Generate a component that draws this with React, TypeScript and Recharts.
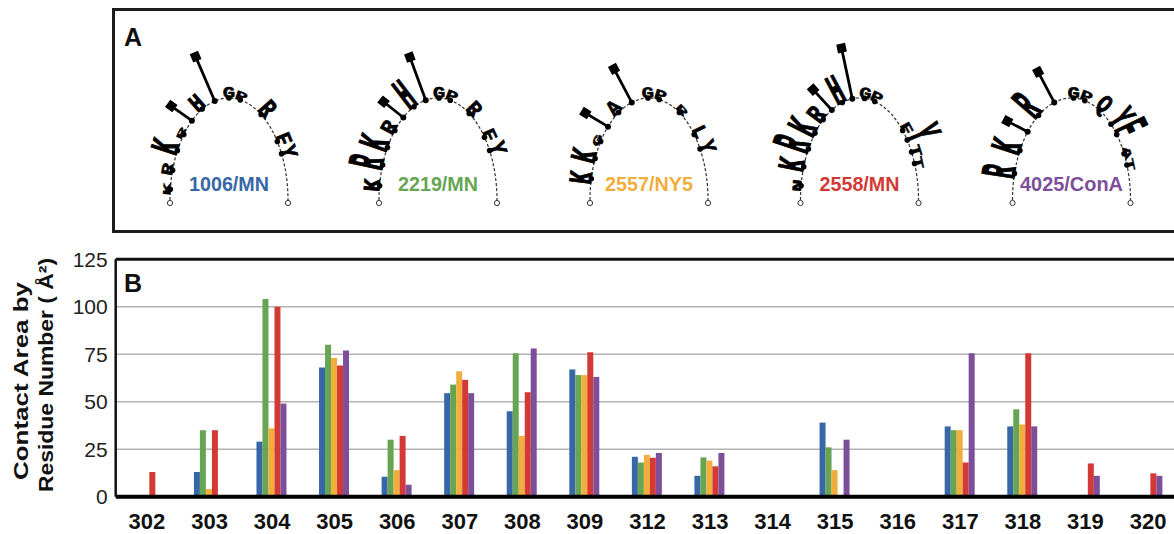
import React from 'react';
import { BarChart, Bar, XAxis, YAxis, CartesianGrid, ReferenceLine } from 'recharts';

// ---------- Panel B data ----------
const residues = ['302', '303', '304', '305', '306', '307', '308', '309', '312', '313', '314', '315', '316', '317', '318', '319', '320'];
const values1006MN = [0, 13, 29, 68, 10.5, 54.5, 45, 67, 21, 11, 0, 39, 0, 37, 37, 0, 0];
const values2219MN = [0, 35, 104, 80, 30, 59, 75.5, 64, 18, 20.7, 0, 26, 0, 35, 46, 0, 0];
const values2557NY5 = [0, 4, 36, 73, 14, 66, 32, 64, 22, 19, 0, 14, 0, 35, 38, 0, 0];
const values2558MN = [13, 35, 100, 69, 32, 61.5, 55, 76, 20.5, 16, 0, 0, 0, 18, 75.5, 17.5, 12.3];
const values4025ConA = [0, 0, 49, 77, 6.3, 54.5, 78, 63, 23, 23, 0, 30, 0, 75.5, 37, 11, 11];
const seriesNames = ['1006/MN', '2219/MN', '2557/NY5', '2558/MN', '4025/ConA'];
const seriesColors = ['#3767a7', '#67a553', '#f2ae3d', '#d33a35', '#7d4f9a'];
const yTicks = [0, 25, 50, 75, 100, 125];

// ---------- Panel A logo data: [letter, angle on arch (deg), relative height] ----------
const logo1006: [string, number, number][] = [
  ['K', 174, 0.6], ['R', 163, 0.9], ['K', 151, 2.2], ['R', 140, 0.5], ['I', 129, 2.2], ['H', 117, 1.4],
  ['I', 104, 4.2], ['G', 90, 0.9], ['P', 79, 0.7], ['R', 57, 1.5], ['F', 35, 1.2], ['Y', 27, 1.3],
];
const logo2219: [string, number, number][] = [
  ['K', 172, 1.3], ['R', 160, 2.8], ['K', 149, 2.4], ['R', 137, 1.2], ['I', 126, 2.2], ['H', 114, 2.6],
  ['I', 102, 4.0], ['G', 89, 0.9], ['P', 78, 0.8], ['R', 58, 1.2], ['F', 38, 1.0], ['Y', 29, 1.4],
];
const logo2557: [string, number, number][] = [
  ['K', 168, 1.8], ['K', 156, 2.0], ['G', 145, 0.6], ['I', 134, 2.3], ['A', 121, 1.2], ['I', 107, 3.3],
  ['G', 91, 0.9], ['P', 80, 0.8], ['R', 59, 0.6], ['L', 40, 1.1], ['Y', 30, 1.3],
];
const logo2558: [string, number, number][] = [
  ['N', 172, 0.7], ['K', 161, 2.1], ['R', 150, 3.0], ['K', 139, 2.4], ['R', 128, 1.5], ['I', 118, 2.4],
  ['H', 107, 2.4], ['I', 97, 4.5], ['G', 85, 0.9], ['P', 75, 0.8], ['F', 43, 0.8], ['Y', 36, 2.9],
  ['T', 28, 0.8], ['T', 21, 0.7],
];
const logo4025: [string, number, number][] = [
  ['R', 165, 2.7], ['K', 151, 2.4], ['I', 138, 2.0], ['R', 124, 2.7], ['I', 107, 3.0], ['G', 88, 0.9],
  ['P', 77, 0.8], ['Q', 62, 1.4], ['Y', 48, 2.2], ['F', 40, 2.7], ['A', 27, 0.6], ['T', 20, 0.6],
];
const logos = [logo1006, logo2219, logo2557, logo2558, logo4025];
const logoCenters = [229, 438, 649, 859.5, 1071.5];
const logoLabelWidths = [80, 80, 88, 80, 103];

const chartData = residues.map((r, i) => ({
  residue: r,
  s0: values1006MN[i],
  s1: values2219MN[i],
  s2: values2557NY5[i],
  s3: values2558MN[i],
  s4: values4025ConA[i],
}));

const RX = 59;
const RY = 102;
const CY = 200;

function Logo({ cx, letters, label, color, labelWidth }: { cx: number; letters: [string, number, number][]; label: string; color: string; labelWidth: number }) {
  const d = `M ${cx - RX} ${CY} A ${RX} ${RY} 0 0 1 ${cx + RX} ${CY}`;
  return (
    <g>
      <path d={d} fill="none" stroke="#333" strokeWidth={1.2} strokeDasharray="3 2" />
      <circle cx={cx - RX} cy={CY + 3} r={2.6} fill="#fff" stroke="#333" strokeWidth={1} />
      <circle cx={cx + RX} cy={CY + 3} r={2.6} fill="#fff" stroke="#333" strokeWidth={1} />
      {letters.map(([ch, deg, h], i) => {
        const t = (deg * Math.PI) / 180;
        const x = cx + RX * Math.cos(t);
        const y = CY - RY * Math.sin(t);
        let nx = Math.cos(t) / RX;
        let ny = -Math.sin(t) / RY;
        const L = Math.hypot(nx, ny);
        nx /= L;
        ny /= L;
        const phi = (Math.atan2(nx, -ny) * 180) / Math.PI;
        if (ch === 'I') {
          const len = h * 11.5;
          const ex = x + nx * len;
          const ey = y + ny * len;
          return (
            <g key={i}>
              <line x1={x} y1={y} x2={ex} y2={ey} stroke="#000" strokeWidth={2.8} />
              <rect x={-4.5} y={-4.5} width={9} height={9} fill="#000" transform={`translate(${ex},${ey}) rotate(${phi})`} />
              <circle cx={x} cy={y} r={3} fill="#000" />
            </g>
          );
        }
        return (
          <g key={i}>
            <text
              transform={`translate(${x},${y}) rotate(${phi}) scale(1.15,${h})`}
              textAnchor="middle"
              fontFamily="Liberation Mono, DejaVu Sans Mono, monospace"
              fontWeight="bold"
              fontSize={18}
              fill="#000"
              stroke="#000"
              strokeWidth={0.6}
            >
              {ch}
            </text>
            <circle cx={x} cy={y} r={2.8} fill="#000" />
          </g>
        );
      })}
      <text
        x={cx}
        y={191}
        textAnchor="middle"
        fontFamily="Liberation Sans, Arial, sans-serif"
        fontWeight="bold"
        fontSize={20}
        fill={color}
        textLength={labelWidth}
        lengthAdjust="spacingAndGlyphs"
      >
        {label}
      </text>
    </g>
  );
}

export default function App() {
  return (
    <div style={{ position: 'absolute', left: 0, top: 0, width: 1174, height: 534, overflow: 'hidden', background: '#fff' }}>
      <style>{'body{margin:0}'}</style>
      <svg width={1174} height={534} style={{ position: 'absolute', left: 0, top: 0 }}>
        <rect x={113.5} y={9.5} width={1200} height={222} fill="none" stroke="#1d1d1d" strokeWidth={3} />
        <text x={124} y={46} fontFamily="Liberation Sans, Arial, sans-serif" fontWeight="bold" fontSize={25} fill="#111">A</text>
        {logos.map((lg, i) => (
          <Logo key={i} cx={logoCenters[i]} letters={lg} label={seriesNames[i]} color={seriesColors[i]} labelWidth={logoLabelWidths[i]} />
        ))}
      </svg>
      <BarChart
        width={1200}
        height={534}
        data={chartData}
        margin={{ top: 259.2, right: 20.7, bottom: 7.3, left: 55.7 }}
        barCategoryGap="25%"
        barGap={0}
        style={{ position: 'absolute', left: 0, top: 0 }}
      >
        <CartesianGrid vertical={false} stroke="#b3b3b3" strokeWidth={1.6} />
        <XAxis
          dataKey="residue"
          interval={0}
          height={30}
          tickLine={false}
          tickSize={0}
          tickMargin={17}
          axisLine={{ stroke: '#000', strokeWidth: 4 }}
          tick={{ fill: '#111', fontSize: 22, fontWeight: 'bold', fontFamily: 'Liberation Sans, Arial, sans-serif' }}
        />
        <YAxis
          domain={[0, 125]}
          ticks={yTicks}
          width={60}
          tickLine={false}
          tickSize={0}
          tickMargin={8}
          axisLine={{ stroke: '#111', strokeWidth: 2.5 }}
          tick={{ fill: '#222', fontSize: 21, fontFamily: 'Liberation Sans, Arial, sans-serif' }}
        />
        <ReferenceLine y={125} stroke="#111" strokeWidth={3} />
        {['s0', 's1', 's2', 's3', 's4'].map((k, i) => (
          <Bar key={k} dataKey={k} name={seriesNames[i]} fill={seriesColors[i]} isAnimationActive={false} />
        ))}
      </BarChart>
      <svg width={1174} height={534} style={{ position: 'absolute', left: 0, top: 0, pointerEvents: 'none' }}>
        <text x={124} y={292} fontFamily="Liberation Sans, Arial, sans-serif" fontWeight="bold" fontSize={25} fill="#111">B</text>
        <text
          transform="translate(20,381) rotate(-90)"
          textAnchor="middle"
          dominantBaseline="central"
          fontFamily="Liberation Sans, Arial, sans-serif"
          fontWeight="bold"
          fontSize={21}
          fill="#111"
          textLength={198}
          lengthAdjust="spacingAndGlyphs"
        >
          Contact Area by
        </text>
        <text
          transform="translate(45,375) rotate(-90)"
          textAnchor="middle"
          dominantBaseline="central"
          fontFamily="Liberation Sans, Arial, sans-serif"
          fontWeight="bold"
          fontSize={21}
          fill="#111"
          textLength={234}
          lengthAdjust="spacingAndGlyphs"
        >
          Residue Number ( Å²)
        </text>
      </svg>
    </div>
  );
}
